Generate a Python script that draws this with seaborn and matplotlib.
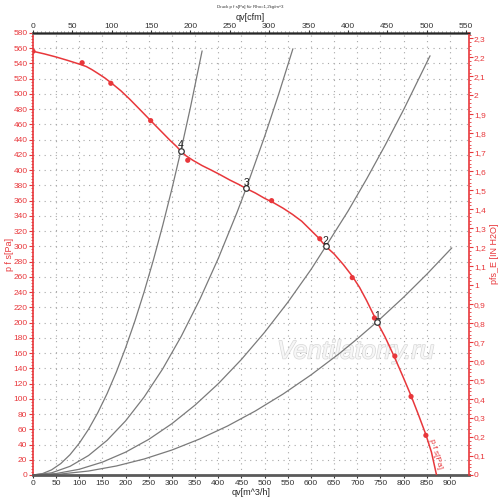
import numpy as np
import pandas as pd
import matplotlib
matplotlib.use("Agg")
import matplotlib.pyplot as plt
import matplotlib.ticker as mticker
import matplotlib.patheffects as pe
import seaborn as sns

# ---- data ----
fan_q = [0, 25, 50, 75, 101, 115, 127, 140, 155, 170, 190, 209, 230, 254, 275, 296, 310,
         319, 330, 345, 365, 385, 404, 425, 445, 460, 480, 500, 520, 540, 560, 580, 600,
         615, 632, 650, 670, 689, 705, 720, 742.5, 760, 780, 800, 816, 832, 848, 860, 871]
fan_p = [556, 552.5, 548.5, 544, 539, 536, 532, 527, 521, 514, 504, 493, 480, 465, 452,
         439, 431, 425, 419, 413, 406, 400, 394, 387, 381, 376, 370, 363, 357, 350, 342,
         333, 321, 312, 300, 290, 276, 261, 246, 229, 201, 181, 155, 127, 104, 79, 53, 30, 0]

meas_q = [0, 106, 168, 254, 334, 515, 619, 689, 737, 781, 816, 848]
meas_p = [556, 541, 514, 465, 413, 360, 310, 259, 206, 156, 103, 52]

op_q = [742.5, 632, 460, 319]
op_p = [201, 300, 376, 425]
op_labels = ["1", "2", "3", "4"]

sys1_q = [0, 60, 120, 180, 240, 300, 360, 420, 480, 540, 600, 660, 700, 742.5, 800, 850, 904]
sys1_p = [0, 1.3, 5.2, 11.8, 21.0, 32.8, 47.3, 64.3, 84.0, 106.3, 131.3, 158.8, 178.7, 201,
          233.3, 263.4, 298]
sys2_q = [0, 50, 100, 150, 200, 250, 300, 350, 400, 450, 500, 550, 600, 632, 680, 720, 760,
          800, 857]
sys2_p = [0, 1.9, 7.5, 16.9, 30.0, 46.8, 67.4, 91.8, 119.8, 151.7, 187.3, 226.6, 269.6, 300,
          346.3, 388.3, 432.6, 479.4, 550.1]
sys3_q = [0, 40, 80, 120, 160, 200, 240, 280, 320, 360, 400, 440, 460, 500, 530, 561]
sys3_p = [0, 2.8, 11.4, 25.6, 45.5, 71.1, 102.4, 139.3, 182.0, 230.3, 284.3, 344.0, 376,
          444.3, 499.2, 559.3]
sys4_q = [0, 20, 40, 60, 80, 100, 120, 140, 160, 180, 200, 220, 240, 260, 280, 300, 319, 340,
          365]
sys4_p = [0, 1.7, 6.7, 15.0, 26.7, 41.8, 60.1, 81.9, 106.9, 135.3, 167.1, 202.2, 240.6,
          282.4, 327.5, 375.9, 425, 482.9, 556.5]

x_ticks = list(range(0, 901, 50))
y_ticks = list(range(0, 581, 20))
cfm_ticks = list(range(0, 551, 50))
inh2o_ticks = [i / 10 for i in range(0, 24)]
inh2o_labels = ["0", "0,1", "0,2", "0,3", "0,4", "0,5", "0,6", "0,7", "0,8", "0,9", "1",
                "1,1", "1,2", "1,3", "1,4", "1,5", "1,6", "1,7", "1,8", "1,9", "2",
                "2,1", "2,2", "2,3"]

RED = "#e8373b"
GRAY = "#7a7a7a"
PA_PER_INH2O = 249.09
M3H_PER_CFM = 1.699

sns.set_style("white")
plt.rcParams["font.family"] = ["Liberation Sans", "DejaVu Sans"]

fig = plt.figure(figsize=(5, 5.03), dpi=100)
ax = fig.add_axes([0.066, 0.0557, 0.871, 0.8787])
ax.set_xlim(0, 940)
ax.set_ylim(0, 580)

# grid
for xv in x_ticks[1:]:
    ax.axvline(xv, color="#a8a8a8", lw=0.8, ls=(0, (1, 4)), zorder=0)
for yv in y_ticks[1:]:
    ax.axhline(yv, color="#a8a8a8", lw=0.8, ls=(0, (1, 4)), zorder=0)

# watermark
ax.text(697, 162, "Ventilatorry.ru", fontsize=18.5, style="italic", color="#f6f6f6",
        ha="center", va="center", zorder=1,
        path_effects=[pe.withStroke(linewidth=1.0, foreground="#d8d8d8")])

# system curves
for qq, pp in [(sys1_q, sys1_p), (sys2_q, sys2_p), (sys3_q, sys3_p), (sys4_q, sys4_p)]:
    df = pd.DataFrame({"q": qq, "p": pp})
    sns.lineplot(data=df, x="q", y="p", ax=ax, color=GRAY, lw=0.9, zorder=2)

# fan curve
df_fan = pd.DataFrame({"q": fan_q, "p": fan_p})
sns.lineplot(data=df_fan, x="q", y="p", ax=ax, color=RED, lw=1.1, zorder=3)
df_meas = pd.DataFrame({"q": meas_q, "p": meas_p})
sns.scatterplot(data=df_meas, x="q", y="p", ax=ax, color=RED, s=14, edgecolor="none",
                zorder=4)

# operating points
df_op = pd.DataFrame({"q": op_q, "p": op_p})
sns.scatterplot(data=df_op, x="q", y="p", ax=ax, facecolor="white", edgecolor="#333333",
                s=16, linewidth=0.9, zorder=5)
for q, p, lab in zip(op_q, op_p, op_labels):
    ax.annotate(lab, (q, p), xytext=(0, 0.5), textcoords="offset points", ha="center",
                va="bottom", fontsize=7.5, color="#222222", zorder=6)

# curve label
ax.text(868, 27, "p f s[Pa]", fontsize=6, color=RED, rotation=-74, ha="center",
        va="center", zorder=6)

ax.set_xlabel("qv[m^3/h]", fontsize=6.5, labelpad=1)
ax.set_ylabel("p f s[Pa]", fontsize=6.5, color=RED, labelpad=-0.5)
ax.set_xticks(x_ticks)
ax.set_yticks(y_ticks)
ax.yaxis.set_minor_locator(mticker.MultipleLocator(4))
ax.tick_params(axis="x", labelsize=6, length=2, width=0.8, colors="#333333", pad=1.5)
ax.tick_params(axis="y", which="major", labelsize=6, length=3, width=0.8, colors=RED, pad=1)
ax.tick_params(axis="y", which="minor", length=1.5, width=0.6, colors=RED)

ax.spines["left"].set_color(RED)
ax.spines["left"].set_linewidth(1.2)
ax.spines["bottom"].set_color("#5a5a5a")
ax.spines["bottom"].set_linewidth(2)
ax.spines["top"].set_color("#6a6a6a")
ax.spines["top"].set_linewidth(2)
ax.spines["right"].set_visible(False)

# right axis (in H2O)
ax2 = ax.twinx()
ax2.set_ylim(0, 580 / PA_PER_INH2O)
ax2.set_yticks(inh2o_ticks)
ax2.set_yticklabels(inh2o_labels)
ax2.yaxis.set_minor_locator(mticker.MultipleLocator(0.02))
ax2.tick_params(axis="y", which="major", labelsize=6, length=3, width=0.8, colors=RED, pad=1)
ax2.tick_params(axis="y", which="minor", length=1.5, width=0.6, colors=RED)
ax2.set_ylabel("pfs_E [IN H2O]", fontsize=6.5, color=RED, labelpad=3)
ax2.spines["right"].set_color(RED)
ax2.spines["right"].set_linewidth(1.2)
for s in ["left", "top", "bottom"]:
    ax2.spines[s].set_visible(False)

# top axis (cfm)
ax3 = ax.twiny()
ax3.set_xlim(0, 940 / M3H_PER_CFM)
ax3.set_xticks(cfm_ticks)
ax3.xaxis.set_minor_locator(mticker.MultipleLocator(5))
ax3.tick_params(axis="x", which="major", labelsize=6, length=2, width=0.8,
                colors="#333333", pad=0.5)
ax3.tick_params(axis="x", which="minor", length=1.2, width=0.5, colors="#555555")
ax3.set_xlabel("qv[cfm]", fontsize=6.5, labelpad=1.5)
for s in ["left", "right", "bottom"]:
    ax3.spines[s].set_visible(False)

fig.text(0.5, 0.986, "Druck p f s[Pa] für Rho=1,2kg/m^3", fontsize=3.2, ha="center",
         va="center", color="#333333")

fig.savefig("out.png", dpi=100, facecolor="white")
